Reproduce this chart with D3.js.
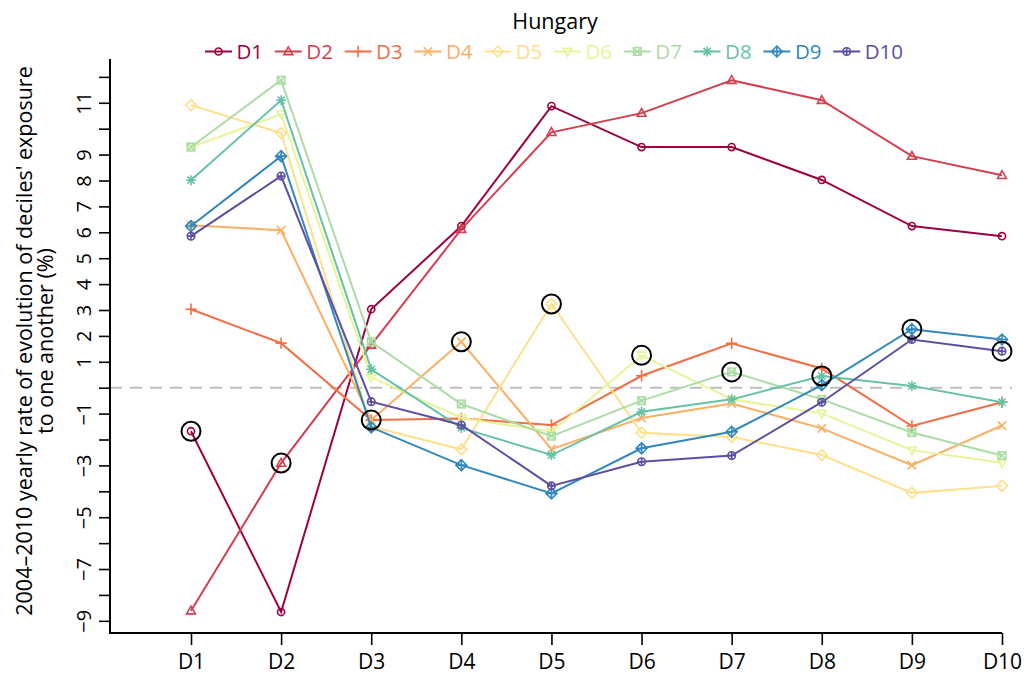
<!DOCTYPE html>
<html>
<head>
<meta charset="utf-8">
<script src="https://cdn.jsdelivr.net/npm/d3@7"></script>
<style>
  html, body { margin: 0; padding: 0; background: #fff; }
  svg text { font-family: "Open Sans", "Noto Sans", sans-serif; }
</style>
</head>
<body>
<svg id="chart" width="1026" height="678"></svg>
<script>
// ---------------- data ----------------
const title = "Hungary";
const categories = ["D1","D2","D3","D4","D5","D6","D7","D8","D9","D10"];
const seriesNames = ["D1","D2","D3","D4","D5","D6","D7","D8","D9","D10"];
const colors = ["#9E0142","#D53E4F","#F46D43","#FDAE61","#FEE08B","#E6F598","#ABDDA4","#66C2A5","#3288BD","#5E4FA2"];
const yTitleLines = ["2004\u20132010 yearly rate of evolution of deciles' exposure", "to one another (%)"];
const yTickValues = [-9,-8,-7,-6,-5,-4,-3,-2,-1,0,1,2,3,4,5,6,7,8,9,10,11,12];
const yTickLabelsShown = [-9,-7,-5,-3,-1,1,2,3,4,5,6,7,8,9,11];

const sD1  = [-1.68, -8.66,  3.03,  6.24, 10.87,  9.29,  9.29,  8.02,  6.24,  5.85];
const sD2  = [-8.61, -2.91,  1.65,  6.12,  9.86, 10.60, 11.87, 11.10,  8.94,  8.20];
const sD3  = [ 3.03,  1.72, -1.25, -1.19, -1.44,  0.46,  1.71,  0.74, -1.48, -0.56];
const sD4  = [ 6.27,  6.08, -1.25,  1.77, -2.37, -1.17, -0.61, -1.57, -2.99, -1.46];
const sD5  = [10.91,  9.83, -1.50, -2.38,  3.23, -1.74, -1.90, -2.60, -4.06, -3.79];
const sD6  = [ 9.29, 10.56,  0.40, -1.17, -1.70,  1.25, -0.45, -0.99, -2.41, -2.90];
const sD7  = [ 9.29, 11.87,  1.77, -0.63, -1.87, -0.50,  0.61, -0.45, -1.73, -2.62];
const sD8  = [ 8.01, 11.10,  0.71, -1.55, -2.60, -0.93, -0.45,  0.45,  0.07, -0.56];
const sD9  = [ 6.24,  8.94, -1.53, -2.99, -4.08, -2.34, -1.70,  0.10,  2.26,  1.86];
const sD10 = [ 5.85,  8.17, -0.54, -1.44, -3.79, -2.86, -2.62, -0.56,  1.86,  1.41];
const seriesValues = [sD1,sD2,sD3,sD4,sD5,sD6,sD7,sD8,sD9,sD10];

// ---------------- layout ----------------
const svg = d3.select("#chart");
const plot = { left: 110, right: 1002, top: 59, bottom: 633 };
const x = d3.scalePoint().domain(categories).range([191, 1002]);
const y = d3.scaleLinear().domain([-9.47, 12.69]).range([plot.bottom, plot.top]);

// marker shapes (R pch 1..10)
function marker(g, i, cx, cy, col) {
  const s = 4.2;
  const m = g.append("g").attr("transform", `translate(${cx},${cy})`)
    .attr("fill", "none").attr("stroke", col).attr("stroke-width", 1.6);
  switch (i) {
    case 0: m.append("circle").attr("r", s*0.85); break;
    case 1: m.append("path").attr("d", `M0,${-s*1.1}L${s*1.05},${s*0.75}L${-s*1.05},${s*0.75}Z`); break;
    case 2: m.append("path").attr("d", `M${-s*1.35},0H${s*1.35}M0,${-s*1.35}V${s*1.35}`); break;
    case 3: m.append("path").attr("d", `M${-s},${-s}L${s},${s}M${-s},${s}L${s},${-s}`); break;
    case 4: m.append("path").attr("d", `M0,${-s*1.3}L${s*1.3},0L0,${s*1.3}L${-s*1.3},0Z`); break;
    case 5: m.append("path").attr("d", `M0,${s*1.1}L${s*1.05},${-s*0.75}L${-s*1.05},${-s*0.75}Z`); break;
    case 6: m.append("rect").attr("x", -s*0.9).attr("y", -s*0.9).attr("width", s*1.8).attr("height", s*1.8);
            m.append("path").attr("d", `M${-s*0.9},${-s*0.9}L${s*0.9},${s*0.9}M${-s*0.9},${s*0.9}L${s*0.9},${-s*0.9}`); break;
    case 7: m.append("path").attr("d", `M${-s*1.2},0H${s*1.2}M0,${-s*1.2}V${s*1.2}M${-s*0.85},${-s*0.85}L${s*0.85},${s*0.85}M${-s*0.85},${s*0.85}L${s*0.85},${-s*0.85}`); break;
    case 8: m.append("path").attr("d", `M0,${-s*1.3}L${s*1.3},0L0,${s*1.3}L${-s*1.3},0Z`);
            m.append("path").attr("d", `M${-s*1.3},0H${s*1.3}M0,${-s*1.3}V${s*1.3}`); break;
    case 9: m.append("circle").attr("r", s*0.9);
            m.append("path").attr("d", `M${-s*0.9},0H${s*0.9}M0,${-s*0.9}V${s*0.9}`); break;
  }
}

// zero reference line
svg.append("line")
  .attr("x1", plot.left).attr("x2", 1012)
  .attr("y1", y(0)).attr("y2", y(0))
  .attr("stroke", "#BEBEBE").attr("stroke-width", 2).attr("stroke-dasharray", "12,8");

// axes
const yAxis = d3.axisLeft(y).tickValues(yTickValues).tickSize(11).tickPadding(8)
  .tickFormat(d => yTickLabelsShown.includes(d) ? (d < 0 ? "\u2212" + Math.abs(d) : String(d)) : "");
const gy = svg.append("g").attr("transform", `translate(${plot.left},0)`).call(yAxis);
gy.select(".domain").remove();
gy.selectAll(".tick line").attr("stroke", "#000").attr("stroke-width", 1.6);
gy.selectAll(".tick text")
  .attr("transform", "rotate(-90)")
  .attr("x", 0).attr("y", -19).attr("dy", 0)
  .attr("text-anchor", "middle")
  .attr("font-size", 20).attr("fill", "#000")
  .style("font-family", '"Open Sans", sans-serif');

const xAxis = d3.axisBottom(x).tickSize(12).tickPadding(9);
const gx = svg.append("g").attr("transform", `translate(0,${plot.bottom})`).call(xAxis);
gx.select(".domain").remove();
gx.selectAll(".tick line").attr("stroke", "#000").attr("stroke-width", 1.6);
gx.selectAll(".tick text").attr("font-size", 21).attr("fill", "#000")
  .style("font-family", '"Open Sans", sans-serif');

// L-shaped frame
svg.append("path")
  .attr("d", `M${plot.left},${plot.top}V${plot.bottom}H${plot.right}`)
  .attr("fill", "none").attr("stroke", "#000").attr("stroke-width", 2);

// series lines + markers
const line = d3.line().x((d, j) => x(categories[j])).y(d => y(d));
seriesValues.forEach((vals, i) => {
  const g = svg.append("g");
  g.append("path").attr("d", line(vals)).attr("fill", "none")
    .attr("stroke", colors[i]).attr("stroke-width", 2);
  vals.forEach((v, j) => marker(g, i, x(categories[j]), y(v), colors[i]));
});

// black circles on own-decile points
seriesValues.forEach((vals, i) => {
  svg.append("circle").attr("cx", x(categories[i])).attr("cy", y(vals[i]))
    .attr("r", 9.5).attr("fill", "none").attr("stroke", "#000").attr("stroke-width", 2);
});

// title
svg.append("text").attr("x", 555).attr("y", 29).attr("text-anchor", "middle")
  .attr("font-size", 21.5).attr("fill", "#000").text(title);

// legend
const legY = 51.5;
seriesNames.forEach((name, i) => {
  const x0 = 205 + i * 69.8;
  const g = svg.append("g");
  g.append("line").attr("x1", x0).attr("x2", x0 + 27).attr("y1", legY).attr("y2", legY)
    .attr("stroke", colors[i]).attr("stroke-width", 2);
  marker(g, i, x0 + 13.5, legY, colors[i]);
  g.append("text").attr("x", x0 + 31.5).attr("y", legY).attr("dy", "0.36em")
    .attr("font-size", 20.5).attr("fill", colors[i]).text(name);
});

// y axis title
yTitleLines.forEach((t, k) => {
  svg.append("text")
    .attr("transform", `translate(${31.5 + k * 21.5},341) rotate(-90)`)
    .attr("text-anchor", "middle").attr("font-size", 21.5).attr("fill", "#000").text(t);
});
</script>
</body>
</html>
